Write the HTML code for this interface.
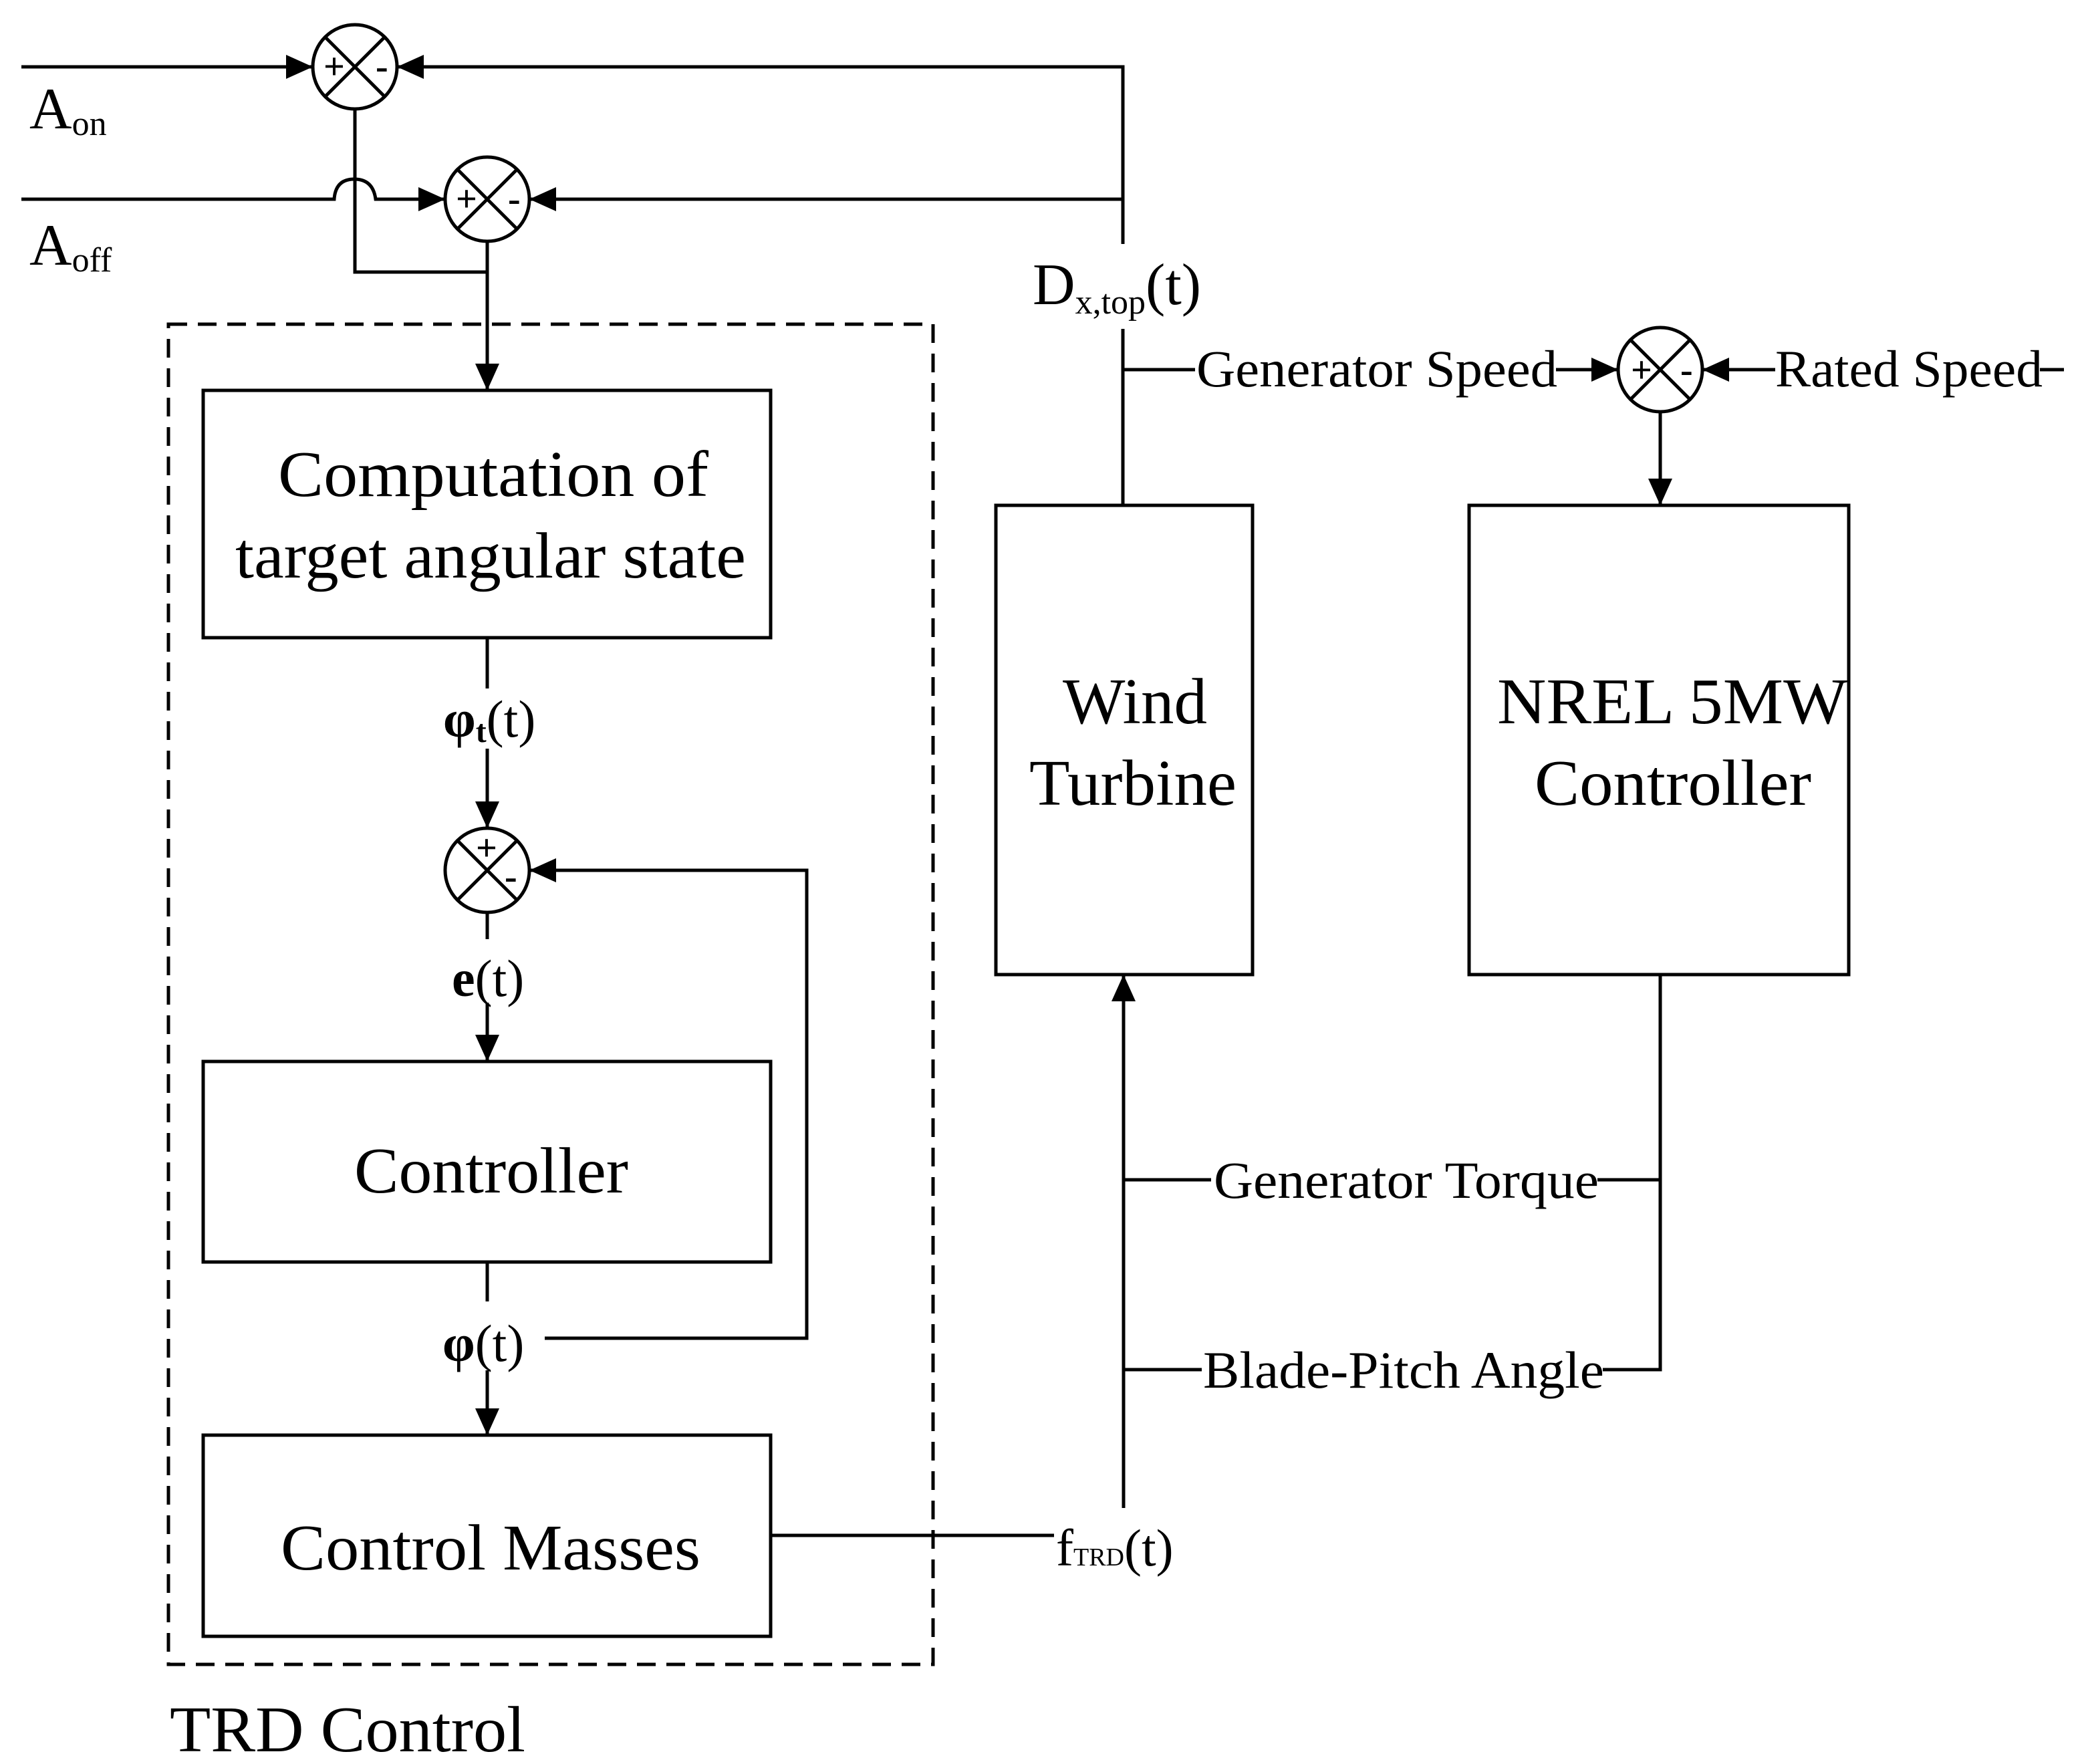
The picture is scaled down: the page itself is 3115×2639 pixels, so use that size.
<!DOCTYPE html>
<html><head><meta charset="utf-8"><style>
html,body{margin:0;padding:0;background:#fff;}
svg{display:block;}
text{font-family:"Liberation Serif",serif;fill:#000;}
</style></head><body>
<svg width="3115" height="2639" viewBox="0 0 3115 2639" xmlns="http://www.w3.org/2000/svg">
<defs>
<marker id="a" markerWidth="40" markerHeight="36" refX="40" refY="18" orient="auto" markerUnits="userSpaceOnUse">
<polygon points="0,0 40,18 0,36" fill="#000"/></marker>
</defs>
<g stroke="#000" stroke-width="5" fill="none">
<circle cx="531" cy="100" r="63" fill="#fff"/>
<line x1="486" y1="55" x2="576" y2="145"/><line x1="576" y1="55" x2="486" y2="145"/>
<circle cx="729" cy="298" r="63" fill="#fff"/>
<line x1="684" y1="253" x2="774" y2="343"/><line x1="774" y1="253" x2="684" y2="343"/>
<circle cx="729" cy="1302" r="63" fill="#fff"/>
<line x1="684" y1="1257" x2="774" y2="1347"/><line x1="774" y1="1257" x2="684" y2="1347"/>
<circle cx="2484" cy="553" r="63" fill="#fff"/>
<line x1="2439" y1="508" x2="2529" y2="598"/><line x1="2529" y1="508" x2="2439" y2="598"/>

<line x1="32" y1="100" x2="468" y2="100" marker-end="url(#a)"/>
<polyline points="1680,365 1680,100 594,100" marker-end="url(#a)"/>
<path d="M32,298 H500 Q502,268 530,268 Q558,268 562,298 H666" marker-end="url(#a)"/>
<line x1="1680" y1="298" x2="792" y2="298" marker-end="url(#a)"/>
<polyline points="531,163 531,407 729,407"/>
<line x1="729" y1="361" x2="729" y2="584" marker-end="url(#a)"/>
<rect x="252" y="485" width="1144" height="2005" stroke-dasharray="28,16"/>
<rect x="304" y="584" width="849" height="370"/>
<rect x="304" y="1588" width="849" height="300"/>
<rect x="304" y="2147" width="849" height="301"/>
<rect x="1490" y="756" width="384" height="702"/>
<rect x="2198" y="756" width="568" height="702"/>
<line x1="729" y1="954" x2="729" y2="1030"/>
<line x1="729" y1="1120" x2="729" y2="1239" marker-end="url(#a)"/>
<line x1="729" y1="1365" x2="729" y2="1405"/>
<line x1="729" y1="1500" x2="729" y2="1588" marker-end="url(#a)"/>
<polyline points="815,2002 1207,2002 1207,1302 792,1302" marker-end="url(#a)"/>
<line x1="729" y1="1888" x2="729" y2="1947"/>
<line x1="729" y1="2050" x2="729" y2="2147" marker-end="url(#a)"/>
<line x1="1153" y1="2297" x2="1577" y2="2297"/>
<line x1="1681" y1="2256" x2="1681" y2="1458" marker-end="url(#a)"/>
<line x1="1681" y1="1765" x2="1812" y2="1765"/>
<line x1="1681" y1="2049" x2="1798" y2="2049"/>
<polyline points="2390,1765 2484,1765"/>
<polyline points="2484,1458 2484,2049 2398,2049"/>
<line x1="1680" y1="492" x2="1680" y2="756"/>
<line x1="1680" y1="553" x2="1788" y2="553"/>
<line x1="2328" y1="553" x2="2421" y2="553" marker-end="url(#a)"/>
<line x1="2656" y1="553" x2="2547" y2="553" marker-end="url(#a)"/>
<line x1="3052" y1="553" x2="3088" y2="553"/>
<line x1="2484" y1="616" x2="2484" y2="756" marker-end="url(#a)"/>
</g>
<g font-size="56" font-weight="bold">
<text x="484" y="118">+</text><text x="562" y="118">-</text>
<text x="682" y="316">+</text><text x="760" y="316">-</text>
<text x="712" y="1287">+</text><text x="755" y="1330">-</text>
<text x="2440" y="572">+</text><text x="2514" y="572">-</text>
</g>
<g font-size="88">
<text x="44" y="192">A<tspan font-size="52" dy="10">on</tspan></text>
<text x="44" y="396">A<tspan font-size="52" dy="10">off</tspan></text>
<text x="1545" y="455">D<tspan font-size="52" dy="14">x,top</tspan><tspan dy="-14">(t)</tspan></text>
</g>
<g font-size="98" lengthAdjust="spacingAndGlyphs">
<text x="416" y="742" textLength="644" lengthAdjust="spacingAndGlyphs">Computation of</text>
<text x="352" y="864" textLength="764" lengthAdjust="spacingAndGlyphs">target angular state</text>
<text x="530" y="1784" textLength="410" lengthAdjust="spacingAndGlyphs">Controller</text>
<text x="420" y="2348" textLength="628" lengthAdjust="spacingAndGlyphs">Control Masses</text>
<text x="1590" y="1082" textLength="216" lengthAdjust="spacingAndGlyphs">Wind</text>
<text x="1540" y="1204" textLength="310" lengthAdjust="spacingAndGlyphs">Turbine</text>
<text x="2240" y="1082" textLength="524" lengthAdjust="spacingAndGlyphs">NREL 5MW</text>
<text x="2296" y="1204" textLength="414" lengthAdjust="spacingAndGlyphs">Controller</text>
<text x="254" y="2620" textLength="532" lengthAdjust="spacingAndGlyphs">TRD Control</text>
</g>
<g font-size="78">
<text x="663" y="1102"><tspan font-weight="bold">φ</tspan><tspan font-weight="bold" font-size="48" dy="8">t</tspan><tspan dy="-8">(t)</tspan></text>
<text x="676" y="1490"><tspan font-weight="bold">e</tspan>(t)</text>
<text x="662" y="2036"><tspan font-weight="bold">φ</tspan>(t)</text>
<text x="1580" y="2342">f<tspan font-size="38">TRD</tspan>(t)</text>
<text x="1790" y="578" textLength="540" lengthAdjust="spacingAndGlyphs">Generator Speed</text>
<text x="2656" y="578" textLength="400" lengthAdjust="spacingAndGlyphs">Rated Speed</text>
<text x="1816" y="1792" textLength="576" lengthAdjust="spacingAndGlyphs">Generator Torque</text>
<text x="1800" y="2076" textLength="600" lengthAdjust="spacingAndGlyphs">Blade-Pitch Angle</text>
</g>
</svg>
</body></html>
